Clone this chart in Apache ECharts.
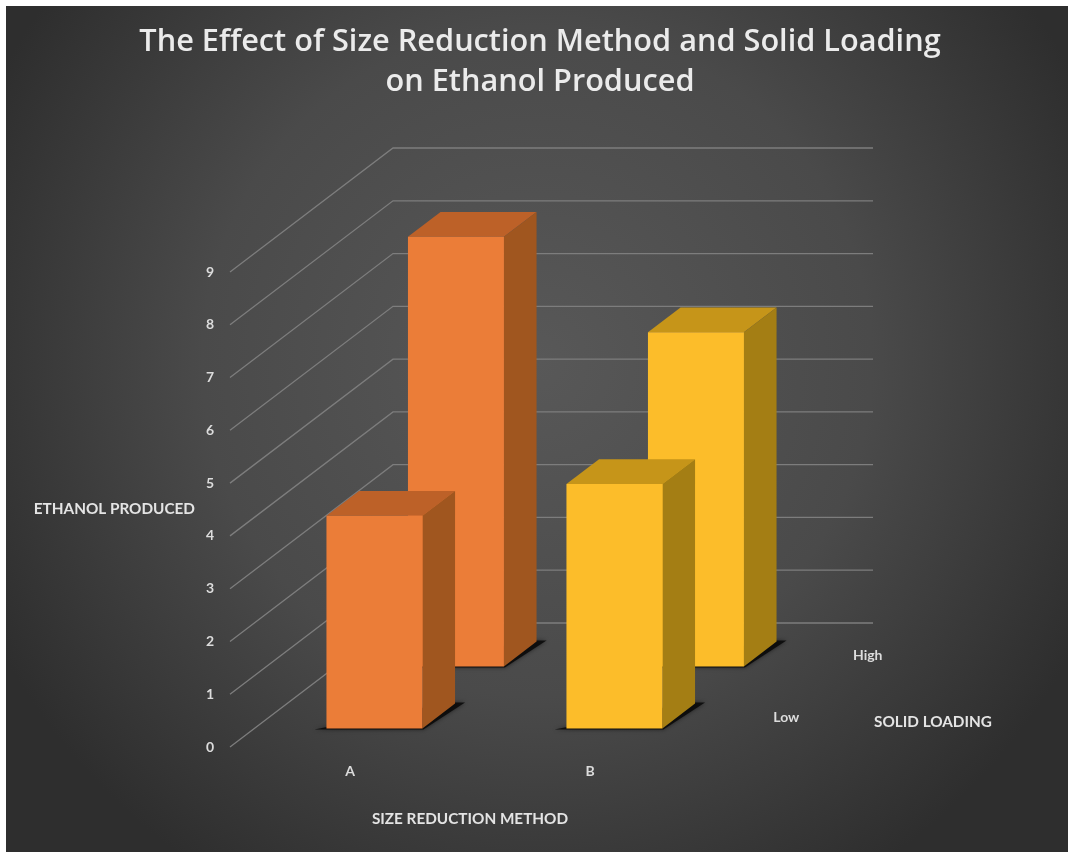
<!DOCTYPE html>
<html>
<head>
<meta charset="utf-8">
<style>
  html, body { margin: 0; padding: 0; background: #ffffff; }
  #chart { width: 1068px; height: 852px; }
</style>
<script src="https://cdn.jsdelivr.net/npm/echarts@6/dist/echarts.min.js"></script>
</head>
<body>
<div id="chart"></div>
<script>
// Values
const methods = ['A', 'B'];
const loadings = ['Low', 'High'];
const lowValues = [4.03, 4.63];
const highValues = [8.14, 6.33];
const yTicks = [0, 1, 2, 3, 4, 5, 6, 7, 8, 9];

// Oblique projection of the depth axis: screen offset per depth category
const DEPTH_X = 81.5;
const DEPTH_Y = -62;
const BAR_DEPTH = 0.4;
const BAR_START = 0.3;
const BAR_WIDTH = 0.4;

const faces = [
  { front: '#EB7D38', top: '#BD6128', side: '#A0561F' },
  { front: '#FCBD2A', top: '#C69519', side: '#A47E14' }
];

const chart = echarts.init(document.getElementById('chart'), null, { renderer: 'canvas' });

function wallLine(params, api) {
  const y = api.coord([0, api.value(0)])[1];
  const left = params.coordSys.x;
  const right = left + params.coordSys.width;
  const dx = DEPTH_X * loadings.length;
  const dy = DEPTH_Y * loadings.length;
  return {
    type: 'polyline',
    shape: { points: [[left, y], [left + dx, y + dy], [right + dx, y + dy]] },
    style: { fill: null, stroke: '#7d7d7d', lineWidth: 1.3 },
    silent: true
  };
}

function bar3d(depthIndex) {
  return function (params, api) {
    const cat = api.value(0);
    const base = api.coord([cat, 0]);
    const top = api.coord([cat, api.value(1)]);
    const w = api.size([1, 0])[0] * BAR_WIDTH;
    const offX = DEPTH_X * (depthIndex + BAR_START);
    const offY = DEPTH_Y * (depthIndex + BAR_START);
    const dX = DEPTH_X * BAR_DEPTH;
    const dY = DEPTH_Y * BAR_DEPTH;
    const x0 = base[0] - w / 2 + offX;
    const x1 = x0 + w;
    const y0 = base[1] + offY;
    const yT = top[1] + offY;
    const c = faces[cat];
    return {
      type: 'group',
      silent: true,
      children: [
        // contact shadow on the floor
        {
          type: 'polygon',
          shape: { points: [[x0 - 12, y0 + 1], [x1 + 1, y0 + 1], [x1 + dX + 10, y0 + dY - 1], [x1 + dX - 6, y0 + dY - 1]] },
          style: { fill: 'rgba(8,8,8,0.85)', shadowBlur: 4, shadowColor: 'rgba(0,0,0,0.6)' }
        },
        {
          type: 'polygon',
          shape: { points: [[x0, yT], [x1, yT], [x1 + dX, yT + dY], [x0 + dX, yT + dY]] },
          style: { fill: c.top }
        },
        {
          type: 'polygon',
          shape: { points: [[x1, yT], [x1 + dX, yT + dY], [x1 + dX, y0 + dY], [x1, y0]] },
          style: { fill: c.side }
        },
        {
          type: 'rect',
          shape: { x: x0, y: yT, width: w, height: y0 - yT },
          style: { fill: c.front }
        }
      ]
    };
  };
}

function depthLabel(params, api) {
  const d = api.value(0);
  const right = params.coordSys.x + params.coordSys.width;
  const floor = params.coordSys.y + params.coordSys.height;
  return {
    type: 'text',
    silent: true,
    style: {
      text: loadings[d],
      x: right + DEPTH_X * (d + 0.5) + 35.5,
      y: floor + DEPTH_Y * (d + 0.5) + 1,
      fill: '#dcdcdc',
      font: 'bold 14px Lato',
      align: 'center',
      verticalAlign: 'middle'
    }
  };
}

const axisNameStyle = { color: '#e4e4e4', fontFamily: 'Lato', fontWeight: 'bold', fontSize: 15.3 };
const tickStyle = { color: '#dcdcdc', fontFamily: 'Lato', fontWeight: 'bold', fontSize: 14 };

chart.setOption({
  animation: false,
  backgroundColor: '#ffffff',
  title: {
    text: 'The Effect of Size Reduction Method and Solid Loading\non Ethanol Produced',
    left: 535,
    top: 17,
    textAlign: 'center',
    textStyle: { color: '#ebebeb', fontFamily: 'Open Sans', fontWeight: 600, fontSize: 30.7, lineHeight: 40 }
  },
  graphic: [
    {
      type: 'rect',
      z: -10,
      silent: true,
      shape: { x: 6, y: 6, width: 1062, height: 846 },
      style: {
        fill: {
          type: 'radial', x: 0.5, y: 0.42, r: 0.72,
          colorStops: [
            { offset: 0, color: '#585858' },
            { offset: 0.55, color: '#4a4a4a' },
            { offset: 1, color: '#2e2e2e' }
          ]
        }
      }
    },
    {
      type: 'text',
      silent: true,
      style: {
        text: 'SOLID LOADING',
        x: 933, y: 722,
        fill: '#e4e4e4',
        font: 'bold 15.3px Lato',
        align: 'center',
        verticalAlign: 'middle'
      }
    }
  ],
  grid: { left: 230, top: 272, width: 480, height: 475, outerBoundsMode: 'none' },
  xAxis: {
    type: 'category',
    data: methods,
    name: 'SIZE REDUCTION METHOD',
    nameLocation: 'middle',
    nameGap: 65,
    nameTextStyle: axisNameStyle,
    axisLine: { show: false },
    axisTick: { show: false },
    axisLabel: Object.assign({ margin: 17 }, tickStyle)
  },
  yAxis: {
    type: 'value',
    min: 0,
    max: 9,
    interval: 1,
    name: 'ETHANOL PRODUCED',
    nameLocation: 'middle',
    nameRotate: 0,
    nameGap: 35,
    nameTextStyle: Object.assign({ padding: [6, 0, 0, 0] }, axisNameStyle),
    axisLine: { show: false },
    axisTick: { show: false },
    splitLine: { show: false },
    axisLabel: Object.assign({ margin: 16 }, tickStyle)
  },
  series: [
    {
      name: 'Wall',
      type: 'custom',
      clip: false,
      z: 1,
      data: yTicks.map(v => [v]),
      encode: { y: 0 },
      renderItem: wallLine
    },
    {
      name: 'High',
      type: 'custom',
      clip: false,
      z: 2,
      data: highValues.map((v, i) => [i, v]),
      encode: { x: 0, y: 1 },
      renderItem: bar3d(1)
    },
    {
      name: 'Low',
      type: 'custom',
      clip: false,
      z: 3,
      data: lowValues.map((v, i) => [i, v]),
      encode: { x: 0, y: 1 },
      renderItem: bar3d(0)
    },
    {
      name: 'Solid loading',
      type: 'custom',
      clip: false,
      z: 4,
      data: loadings.map((_, i) => [i]),
      renderItem: depthLabel
    }
  ]
});
</script>
</body>
</html>
